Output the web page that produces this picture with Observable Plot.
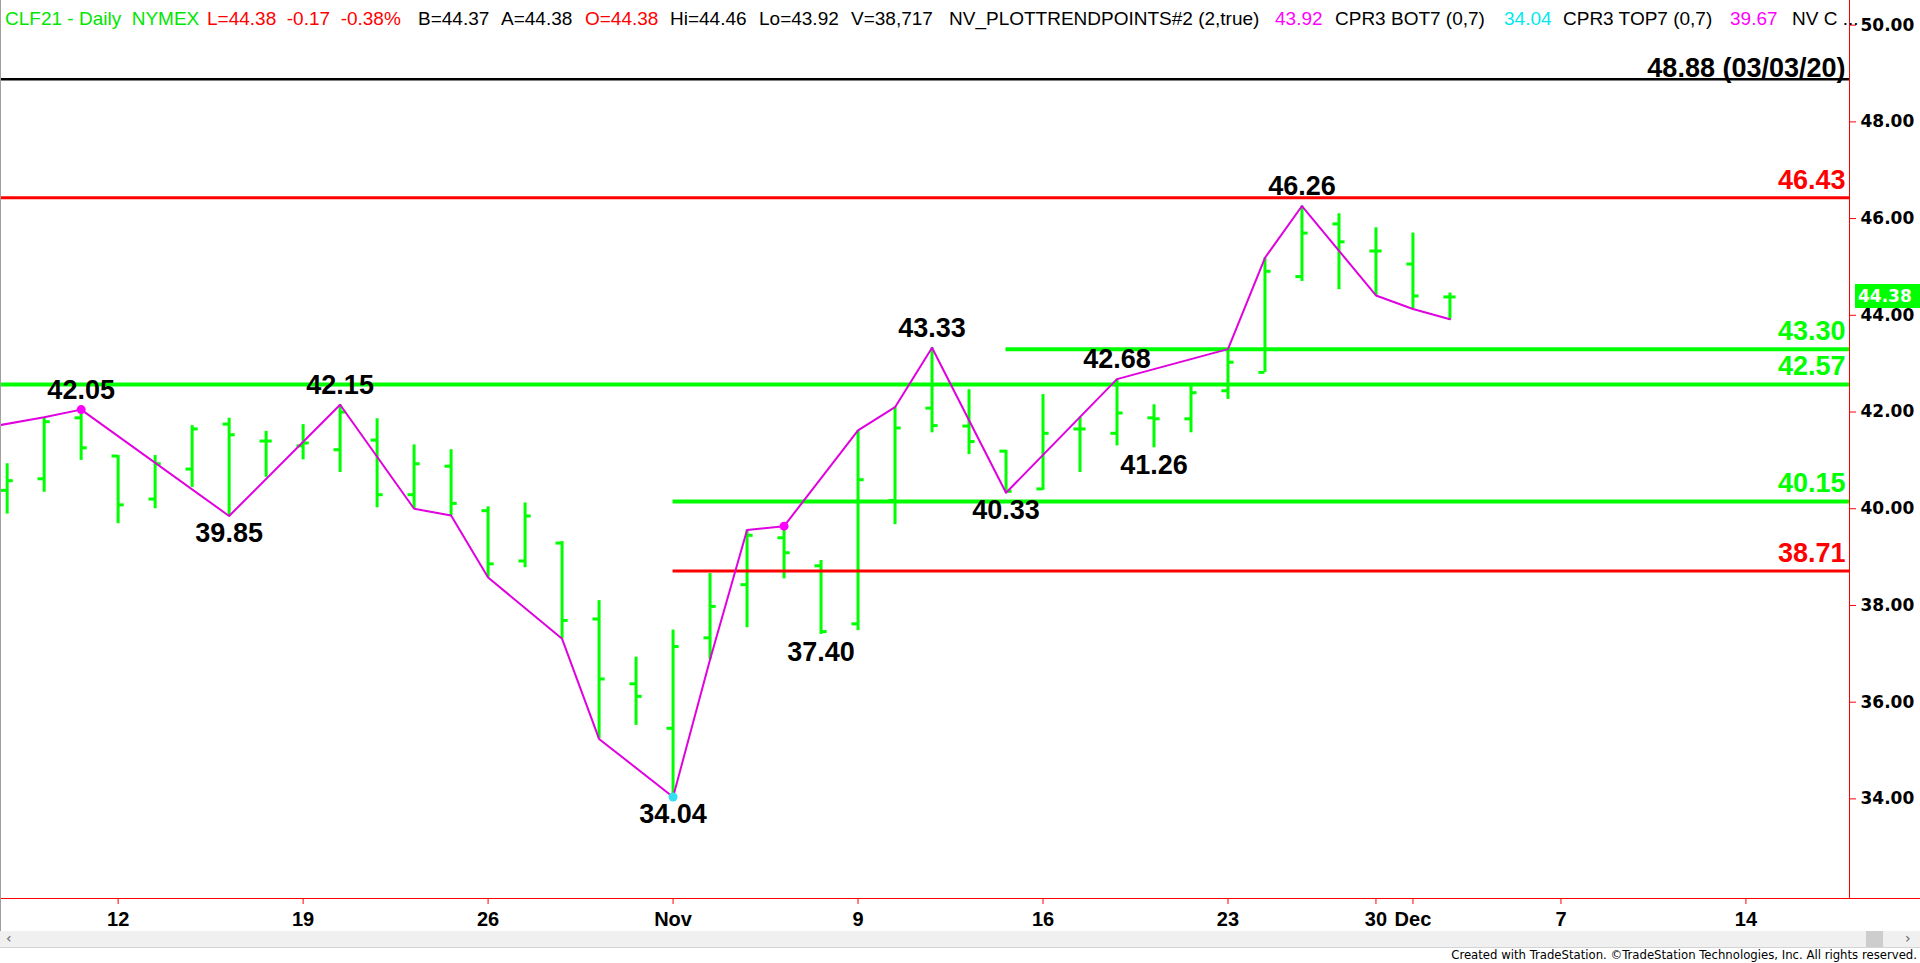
<!DOCTYPE html>
<html><head><meta charset="utf-8">
<script src="https://cdn.jsdelivr.net/npm/d3@7"></script>
<script src="https://cdn.jsdelivr.net/npm/@observablehq/plot@0.6"></script>
<style>
html,body{margin:0;padding:0;background:#fff;overflow:hidden}
#wrap{position:relative;width:1920px;height:963px;background:#fff}
#chart{position:absolute;left:0;top:0}
.hdr{position:absolute;top:9px;font-family:"Liberation Sans",Arial,sans-serif;font-size:19px;line-height:19px;white-space:pre;z-index:3}
.g{color:#00e600}.r{color:#ff0000}.k{color:#000}.m{color:#ff00ff}.c{color:#00e8ee}
#scroll{position:absolute;left:0;top:931px;width:1920px;height:16px;background:#f0f0f0;border-bottom:1px solid #d4d4d4}
#thumb{position:absolute;left:1866px;top:0;width:17px;height:16px;background:#cdcdcd}
.arr{position:absolute;top:-1px;font:14px "DejaVu Sans",sans-serif;color:#606060}
#foot{position:absolute;right:3px;top:947px;font-family:"Liberation Sans Narrow","Arial Narrow","DejaVu Sans Condensed",sans-serif;font-size:13px;color:#000;white-space:pre}
#price{position:absolute;left:1855px;width:65px;height:24px;background:#00ff00;color:#fff;font:bold 17px "DejaVu Sans",sans-serif;line-height:24px;text-align:left;padding-left:3px;box-sizing:border-box;z-index:3}
</style></head>
<body><div id="wrap"><div id="chart"></div></div>
<script>
// ---- trading sessions (calendar of bars on the x axis) ----
const sessions = ["2020-10-06","2020-10-07","2020-10-08","2020-10-09",
 "2020-10-12","2020-10-13","2020-10-14","2020-10-15","2020-10-16",
 "2020-10-19","2020-10-20","2020-10-21","2020-10-22","2020-10-23",
 "2020-10-26","2020-10-27","2020-10-28","2020-10-29","2020-10-30",
 "2020-11-02","2020-11-03","2020-11-04","2020-11-05","2020-11-06",
 "2020-11-09","2020-11-10","2020-11-11","2020-11-12","2020-11-13",
 "2020-11-16","2020-11-17","2020-11-18","2020-11-19","2020-11-20",
 "2020-11-23","2020-11-24","2020-11-25","2020-11-27",
 "2020-11-30","2020-12-01","2020-12-02","2020-12-03","2020-12-04",
 "2020-12-07","2020-12-08","2020-12-09","2020-12-10","2020-12-11",
 "2020-12-14","2020-12-15","2020-12-16","2020-12-17"];

// ---- daily OHLC bars ----
const barDates = sessions.slice(1, 41);
const openP  = [40.38,40.62,41.88,41.09,40.20,40.82,41.75,41.40,41.30,41.22,41.42,40.29,40.88,39.96,38.92,39.29,37.72,36.38,35.46,37.33,38.43,39.40,38.82,37.62,40.17,42.08,41.71,41.19,40.41,41.65,41.56,41.88,41.86,42.44,42.82,44.80,45.89,45.33,45.06,44.38];
const highP  = [40.93,41.89,42.05,41.10,41.10,41.72,41.87,41.60,41.74,42.15,41.86,41.32,41.22,40.04,40.12,39.32,38.10,36.93,37.49,38.66,39.56,39.64,38.93,41.62,42.10,43.33,42.46,41.21,42.36,41.89,42.68,42.15,42.53,43.30,45.19,46.26,46.10,45.81,45.70,44.46];
const lowP   = [39.89,40.34,41.00,39.69,40.00,40.44,39.85,40.65,41.01,40.75,40.02,40.00,39.86,38.58,38.78,37.31,35.24,35.52,34.04,36.88,37.54,38.55,37.40,37.48,39.67,41.57,41.12,40.33,40.38,40.75,41.30,41.26,41.57,42.26,42.82,44.70,44.53,44.41,44.13,43.92];
const closeP = [40.58,41.80,41.26,40.08,40.93,41.65,41.53,41.40,41.36,42.00,40.29,40.93,40.11,38.86,39.85,37.69,36.48,36.12,37.15,37.98,39.45,39.09,37.46,40.60,41.67,41.72,41.39,40.36,41.56,41.65,41.98,41.86,42.40,43.03,44.91,45.70,45.52,45.33,44.40,44.38];

// ---- trend points (NV_PLOTTRENDPOINTS) ----
const trendDates = ["2020-10-06","2020-10-08","2020-10-09","2020-10-15","2020-10-20","2020-10-22","2020-10-23","2020-10-26","2020-10-28","2020-10-29","2020-11-02","2020-11-03","2020-11-04","2020-11-05","2020-11-09","2020-11-10","2020-11-11","2020-11-13","2020-11-18","2020-11-23","2020-11-24","2020-11-25","2020-11-30","2020-12-01","2020-12-02"];
const trendValues = [41.62,41.89,42.05,39.85,42.15,40.00,39.86,38.58,37.31,35.24,34.04,36.88,39.56,39.64,41.62,42.10,43.33,40.33,42.68,43.30,45.19,46.26,44.41,44.13,43.92];

// ---- highlighted points ----
const dotDates = ["2020-10-09","2020-11-05","2020-11-02"];
const dotValues = [42.05,39.64,34.04];
const dotKinds = ["top","top","bottom"];

// ---- swing labels ----
const pivotDates  = ["2020-10-09","2020-10-15","2020-10-20","2020-11-02","2020-11-06","2020-11-11","2020-11-13","2020-11-18","2020-11-19","2020-11-25"];
const pivotValues = [42.05,39.85,42.15,34.04,37.40,43.33,40.33,42.68,41.26,46.26];
const pivotSide   = ["above","below","above","below","below","above","below","above","below","above"];

// ---- horizontal levels ----
const levelValues = [48.88,46.43,43.30,42.57,40.15,38.71];
const levelLabels = ["48.88 (03/03/20)","46.43","43.30","42.57","40.15","38.71"];
const levelStart  = [null,null,"2020-11-13",null,"2020-11-02","2020-11-02"];
const levelKind   = ["hist","resist","support","support","support","resist"];

// ---- axes ----
const yTicks = [34,36,38,40,42,44,46,48,50];
const xTickDates  = ["2020-10-12","2020-10-19","2020-10-26","2020-11-02","2020-11-09","2020-11-16","2020-11-23","2020-11-30","2020-12-01","2020-12-07","2020-12-14"];
const xTickLabels = ["12","19","26","Nov","9","16","23","30","Dec","7","14"];

// ---- build tables ----
const idx = d => sessions.indexOf(d);
const xDomain = [0.82, 50.8];
const bars = barDates.map((d,i) => ({x: idx(d), o: openP[i], h: highP[i], l: lowP[i], c: closeP[i]}));
const trend = trendDates.map((d,i) => ({x: idx(d), v: trendValues[i]}));
const dots = dotDates.map((d,i) => ({x: idx(d), v: dotValues[i], k: dotKinds[i]}));
const pivots = pivotDates.map((d,i) => ({x: idx(d), v: pivotValues[i], t: pivotValues[i].toFixed(2), s: pivotSide[i]}));
const levelColor = {hist:"#000000", resist:"#ff0000", support:"#00ff00"};
const levelWidth = {hist:2.5, resist:3, support:4};
const levels = levelValues.map((v,i) => ({v, label: levelLabels[i], x1: levelStart[i] ? idx(levelStart[i]) : xDomain[0], x2: xDomain[1], k: levelKind[i]}));
const xTickIdx = xTickDates.map(idx);
const xLabelOf = new Map(xTickIdx.map((t,i) => [t, xTickLabels[i]]));

const W = 0.165; // half tick arm in sessions
const GREEN = "#00ff00", MAG = "#e000e0";
const bold = "Liberation Sans, Arial, sans-serif";

const chart = Plot.plot({
  width: 1920, height: 930,
  marginLeft: 0, marginRight: 71, marginTop: 0, marginBottom: 32,
  style: {background: "#fff", fontFamily: bold, overflow: "visible"},
  x: {domain: xDomain},
  y: {domain: [31.94, 50.51]},
  marks: [
    Plot.ruleX(bars, {x: "x", y1: "l", y2: "h", stroke: GREEN, strokeWidth: 3}),
    Plot.ruleY(bars, {y: "o", x1: d => d.x - W, x2: "x", stroke: GREEN, strokeWidth: 3}),
    Plot.ruleY(bars, {y: "c", x1: "x", x2: d => d.x + W, stroke: GREEN, strokeWidth: 3}),
    Plot.ruleY(levels, {y: "v", x1: "x1", x2: "x2", stroke: d => levelColor[d.k], strokeWidth: d => levelWidth[d.k]}),
    Plot.line(trend, {x: "x", y: "v", stroke: MAG, strokeWidth: 2, clip: true}),
    Plot.dot(dots, {x: "x", y: "v", r: 4.5, fill: d => d.k === "top" ? "#ff00ff" : "#33e0f0", stroke: "none"}),
    Plot.text(pivots.filter(d => d.s === "above"), {x: "x", y: "v", text: "t", lineAnchor: "bottom", dy: -11, fontSize: 27, fontWeight: "bold", fill: "#000", fontFamily: bold}),
    Plot.text(pivots.filter(d => d.s === "below"), {x: "x", y: "v", text: "t", lineAnchor: "top", dy: 7, fontSize: 27, fontWeight: "bold", fill: "#000", fontFamily: bold}),
    Plot.text(levels.filter(d => d.k === "hist"), {y: "v", text: "label", frameAnchor: "right", textAnchor: "end", lineAnchor: "bottom", dx: -4, dy: -2, fontSize: 27, fontWeight: "bold", fill: "#000", fontFamily: bold}),
    Plot.text(levels.filter(d => d.k !== "hist"), {y: "v", text: "label", frameAnchor: "right", textAnchor: "end", lineAnchor: "bottom", dx: -4, dy: -9, fontSize: 27, fontWeight: "bold", fill: d => levelColor[d.k], fontFamily: bold}),
    Plot.ruleX([xDomain[1]], {stroke: "#ff0000", strokeWidth: 1}),
    Plot.axisY({anchor: "right", ticks: yTicks, tickSize: 6, tickPadding: 5, tickFormat: d => d.toFixed(2), stroke: "#ff0000", fill: "#000", fontSize: 17, fontWeight: "bold", fontFamily: "DejaVu Sans, sans-serif"}),
    Plot.axisX({anchor: "bottom", ticks: xTickIdx, tickSize: 6, tickPadding: 7, tickFormat: d => xLabelOf.get(d), stroke: "#ff0000", fill: "#000", fontSize: 20, fontWeight: "bold", fontFamily: bold})
  ]
});
document.getElementById("chart").appendChild(chart);

const wrap = document.getElementById("wrap");
const add = (html) => { wrap.insertAdjacentHTML("beforeend", html); };

// header line
const hdr = [
  ["CLF21 - Daily  NYMEX","g",5],["L=44.38  -0.17  -0.38%","r",207],["B=44.37","k",418],["A=44.38","k",501],
  ["O=44.38","r",585],["Hi=44.46","k",670],["Lo=43.92","k",759],["V=38,717","k",851],
  ["NV_PLOTTRENDPOINTS#2 (2,true)","k",949],["43.92","m",1275],["CPR3 BOT7 (0,7)","k",1335],
  ["34.04","c",1504],["CPR3 TOP7 (0,7)","k",1563],["39.67","m",1730],["NV C ...","k",1792]
];
hdr.forEach(([t,c,x]) => add(`<div class="hdr ${c}" style="left:${x}px">${t}</div>`));

// frame
add(`<div style="position:absolute;left:0;top:898px;width:1920px;height:1px;background:#ff0000"></div>`);
add(`<div style="position:absolute;left:0;top:0;width:1px;height:948px;background:#a0a0a0"></div>`);
// scrollbar + footer
add(`<div id="scroll"><span class="arr" style="left:6px">&#8249;</span><div id="thumb"></div><span class="arr" style="left:1905px">&#8250;</span></div>`);
add(`<div id="foot">Created with TradeStation. \u00a9TradeStation Technologies, Inc. All rights reserved.</div>`);
// last price box
const yScale = chart.scale("y");
const last = closeP[closeP.length-1];
add(`<div id="price" style="top:${Math.round(yScale.apply(last) - 12)}px">${last.toFixed(2)}</div>`);
</script>
</body></html>
